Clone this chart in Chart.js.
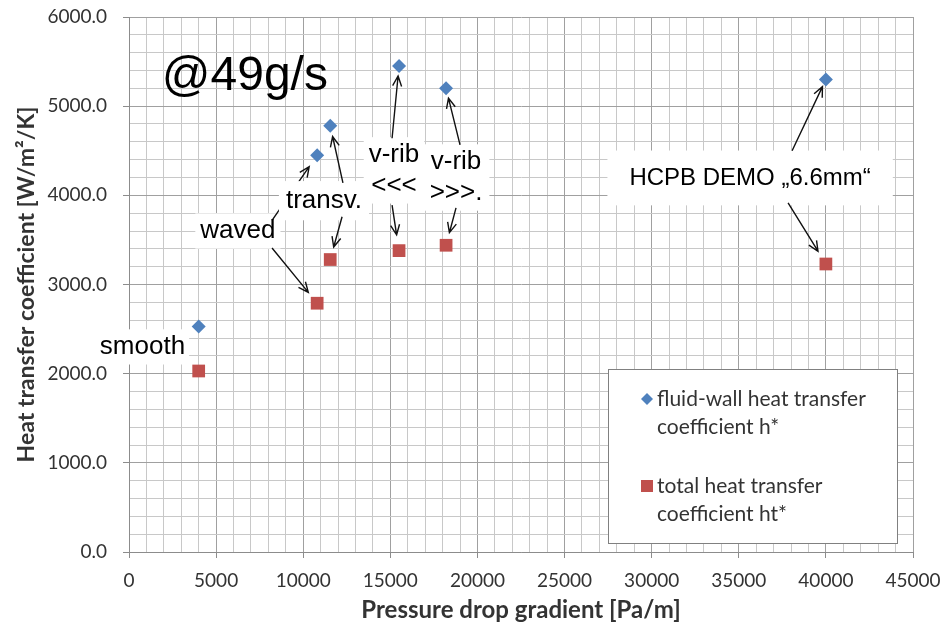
<!DOCTYPE html>
<html>
<head>
<meta charset="utf-8">
<script src="https://cdn.jsdelivr.net/npm/chart.js@4.4.0/dist/chart.umd.min.js"></script>
<style>
    html, body { margin: 0; padding: 0; background: #ffffff; }
    #wrap { width: 941px; height: 630px; position: relative; }
</style>
</head>
<body>
<div id="wrap"><canvas id="heatChart"></canvas></div>
<script>
// --- DATA ---
const pressureDrop = [4000, 10800, 11550, 15500, 18200, 40000];   // Pa/m
const hFluidWall   = [2530, 4450, 4780, 5450, 5200, 5300];        // W/m2/K
const hTotal       = [2030, 2790, 3280, 3380, 3440, 3230];        // W/m2/K
const legendFluidWall = ['fluid-wall heat transfer', 'coefficient h*'];
const legendTotal     = ['total heat transfer', 'coefficient ht*'];

// --- STYLE ---
const BLUE = '#4f81bd';
const RED = '#c0504d';
const TEXT = '#333333';
const LABEL_FONT = '"Liberation Sans", Arial, sans-serif';
const AXIS_FONT = 'Lato, "Open Sans", sans-serif';

// Callouts: text centre in data units, arrows run from a tail (data units)
// to a plotted point, stopping short of the marker by `gap` px.
const callouts = [
    { lines: ['@49g/s'], x: 6650, y: 5330, size: 48, box: false },
    { lines: ['smooth'], x: 775, y: 2300, size: 26, pad: [4, 2] },
    { lines: ['waved'], x: 6250, y: 3600, size: 26, pad: [5, 2],
      arrows: [
        { from: [8210, 3720], to: ['h', 1], gap: 14 },
        { from: [8210, 3410], to: ['ht', 1], gap: 14 }
      ] },
    { lines: ['transv.'], x: 11190, y: 3940, size: 26, pad: [7, 4],
      arrows: [
        { from: [12280, 4140], to: ['h', 2], gap: 11 },
        { from: [12230, 3760], to: ['ht', 2], gap: 13 }
      ] },
    { lines: ['v-rib', '<<<'], x: 15210, y: 4280, size: 26, pad: [5, 2],
      arrows: [
        { from: [15100, 4640], to: ['h', 3], gap: 10 },
        { from: [15100, 3890], to: ['ht', 3], gap: 16 }
      ] },
    { lines: ['v-rib', '>>>.'], x: 18770, y: 4200, size: 26, pad: [7, 2],
      arrows: [
        { from: [19000, 4565], to: ['h', 4], gap: 10 },
        { from: [18770, 3860], to: ['ht', 4], gap: 13 }
      ] },
    { lines: ['HCPB DEMO \u201e6.6mm\u201c'], x: 35650, y: 4195, size: 24, pad: [22, 13],
      arrows: [
        { from: [38060, 4500], to: ['h', 5], gap: 8 },
        { from: [37830, 3915], to: ['ht', 5], gap: 15 }
      ] }
];

// --- PLUGINS ---
function drawArrow(ctx, x0, y0, x1, y1) {
    const ang = Math.atan2(y1 - y0, x1 - x0);
    const head = 11, spread = 0.42;
    ctx.beginPath();
    ctx.moveTo(x0, y0);
    ctx.lineTo(x1, y1);
    ctx.moveTo(x1 - head * Math.cos(ang - spread), y1 - head * Math.sin(ang - spread));
    ctx.lineTo(x1, y1);
    ctx.lineTo(x1 - head * Math.cos(ang + spread), y1 - head * Math.sin(ang + spread));
    ctx.stroke();
}

const calloutPlugin = {
    id: 'callouts',
    afterDatasetsDraw(chart) {
        const ctx = chart.ctx;
        const xs = chart.scales.x, ys = chart.scales.y;
        const series = { h: hFluidWall, ht: hTotal };
        ctx.save();
        callouts.forEach(c => {
            const cx = xs.getPixelForValue(c.x);
            const cy = ys.getPixelForValue(c.y);
            const lh = c.size * 1.2;
            ctx.font = `${c.size}px ${LABEL_FONT}`;
            const w = Math.max(...c.lines.map(l => ctx.measureText(l).width));
            const h = lh * c.lines.length;

            if (c.box !== false) {
                ctx.fillStyle = '#ffffff';
                ctx.fillRect(cx - w / 2 - c.pad[0], cy - h / 2 - c.pad[1], w + 2 * c.pad[0], h + 2 * c.pad[1]);
            }

            ctx.strokeStyle = '#111111';
            ctx.lineWidth = 1.4;
            (c.arrows || []).forEach(a => {
                const tx = xs.getPixelForValue(a.from[0]);
                const ty = ys.getPixelForValue(a.from[1]);
                const idx = a.to[1];
                const px = xs.getPixelForValue(pressureDrop[idx]);
                const py = ys.getPixelForValue(series[a.to[0]][idx]);
                const len = Math.hypot(px - tx, py - ty);
                const k = (len - a.gap) / len;
                drawArrow(ctx, tx, ty, tx + (px - tx) * k, ty + (py - ty) * k);
            });

            ctx.fillStyle = '#000000';
            ctx.textAlign = 'center';
            ctx.textBaseline = 'middle';
            c.lines.forEach((line, i) => {
                ctx.fillText(line, cx, cy - h / 2 + lh * (i + 0.5));
            });
        });
        ctx.restore();
    }
};

const legendBoxPlugin = {
    id: 'legendBox',
    afterDraw(chart) {
        const ctx = chart.ctx;
        const area = chart.chartArea;
        const bw = 289, bh = 174;
        const left = area.right - 16 - bw;
        const top = area.bottom - 9 - bh;
        ctx.save();
        ctx.fillStyle = '#ffffff';
        ctx.fillRect(left, top, bw, bh);
        ctx.strokeStyle = '#808080';
        ctx.lineWidth = 1;
        ctx.strokeRect(left + 0.5, top + 0.5, bw, bh);

        ctx.font = `21px ${AXIS_FONT}`;
        ctx.textAlign = 'left';
        ctx.textBaseline = 'middle';

        // diamond marker
        const mx = left + 39;
        let y = top + 30;
        ctx.fillStyle = BLUE;
        ctx.beginPath();
        ctx.moveTo(mx, y - 6); ctx.lineTo(mx + 6, y); ctx.lineTo(mx, y + 6); ctx.lineTo(mx - 6, y);
        ctx.closePath();
        ctx.fill();
        ctx.fillStyle = TEXT;
        legendFluidWall.forEach((t, i) => ctx.fillText(t, left + 49, y + i * 28));

        // square marker
        y = top + 117;
        ctx.fillStyle = RED;
        ctx.fillRect(mx - 6, y - 6, 12, 12);
        ctx.fillStyle = TEXT;
        legendTotal.forEach((t, i) => ctx.fillText(t, left + 49, y + i * 28));
        ctx.restore();
    }
};

// --- CHART ---
const toPoints = ys => pressureDrop.map((x, i) => ({ x: x, y: ys[i] }));

const gridColor = (ctx, major) =>
    (ctx.tick && ctx.tick.value % major === 0) ? '#a0a0a0' : '#c8c8c8';

new Chart(document.getElementById('heatChart'), {
    type: 'scatter',
    data: {
        datasets: [
            {
                label: legendFluidWall.join(' '),
                data: toPoints(hFluidWall),
                pointStyle: 'rectRot',
                pointRadius: 7,
                pointHoverRadius: 7,
                backgroundColor: BLUE,
                borderColor: BLUE,
                borderWidth: 0
            },
            {
                label: legendTotal.join(' '),
                data: toPoints(hTotal),
                pointStyle: 'rect',
                pointRadius: 9,
                pointHoverRadius: 9,
                backgroundColor: RED,
                borderColor: RED,
                borderWidth: 0
            }
        ]
    },
    options: {
        responsive: true,
        maintainAspectRatio: false,
        animation: false,
        layout: { padding: { left: 8, right: 28, top: 17, bottom: 5 } },
        plugins: {
            legend: { display: false },
            tooltip: { enabled: false }
        },
        scales: {
            x: {
                type: 'linear',
                min: 0,
                max: 45000,
                // fixed axis band; end labels may overhang into the page margin
                afterFit: scale => {
                    scale.height = 73;
                    scale.paddingLeft = 0;
                    scale.paddingRight = 0;
                },
                ticks: {
                    stepSize: 1000,
                    autoSkip: false,
                    maxTicksLimit: 100,
                    maxRotation: 0,
                    padding: 11,
                    color: TEXT,
                    font: { family: AXIS_FONT, size: 19 },
                    callback: v => (v % 5000 === 0 ? String(v) : '')
                },
                grid: {
                    color: ctx => gridColor(ctx, 5000),
                    tickLength: 6,
                    tickColor: ctx => (ctx.tick && ctx.tick.value % 5000 === 0) ? '#8c8c8c' : 'rgba(0,0,0,0)'
                },
                border: { color: '#8c8c8c' },
                title: {
                    display: true,
                    text: 'Pressure drop gradient [Pa/m]',
                    color: TEXT,
                    font: { family: AXIS_FONT, size: 24, weight: 'bold' },
                    padding: { top: 0, bottom: 0 }
                }
            },
            y: {
                type: 'linear',
                min: 0,
                max: 6000,
                afterFit: scale => {
                    scale.width = 121;
                    scale.paddingTop = 0;
                    scale.paddingBottom = 0;
                },
                ticks: {
                    stepSize: 200,
                    autoSkip: false,
                    maxTicksLimit: 100,
                    padding: 16,
                    color: TEXT,
                    font: { family: AXIS_FONT, size: 19 },
                    callback: v => (v % 1000 === 0 ? v.toFixed(1) : '')
                },
                grid: {
                    color: ctx => gridColor(ctx, 1000),
                    tickLength: 6,
                    tickColor: ctx => (ctx.tick && ctx.tick.value % 1000 === 0) ? '#8c8c8c' : 'rgba(0,0,0,0)'
                },
                border: { color: '#8c8c8c' },
                title: {
                    display: true,
                    text: 'Heat transfer coefficient [W/m\u00b2/K]',
                    color: TEXT,
                    font: { family: AXIS_FONT, size: 23, weight: 'bold' },
                    padding: { top: 5, bottom: 0 }
                }
            }
        }
    },
    plugins: [calloutPlugin, legendBoxPlugin]
});
</script>
</body>
</html>
